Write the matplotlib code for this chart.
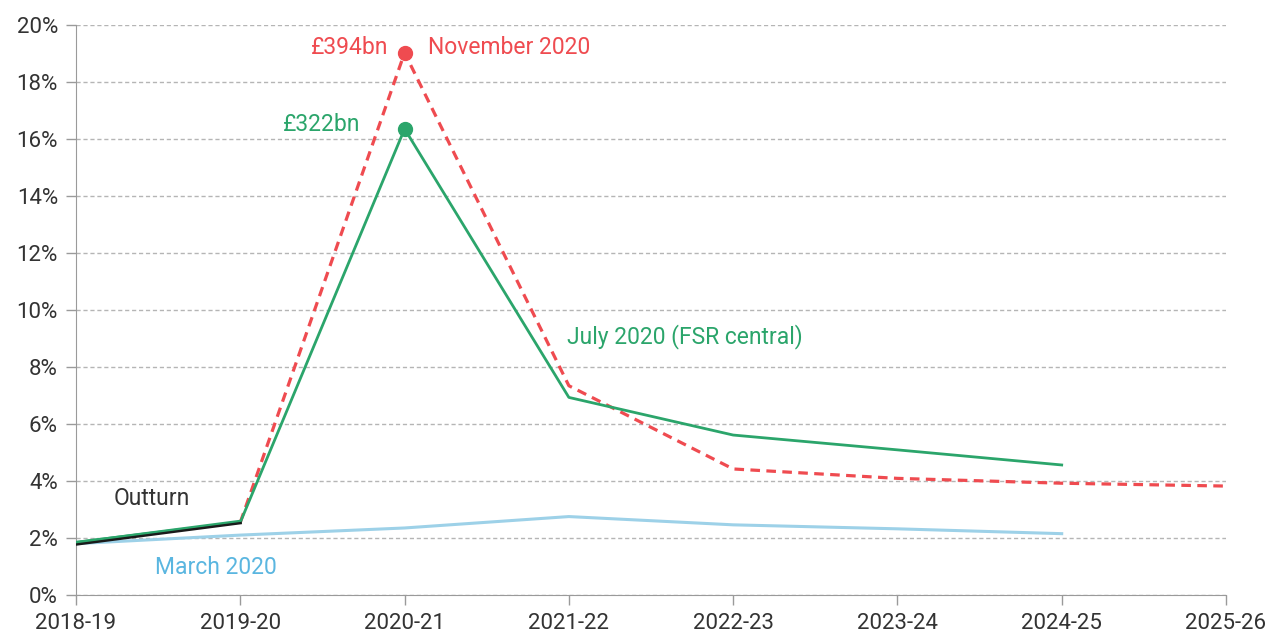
import matplotlib.pyplot as plt

plt.rcParams['font.family'] = ['Roboto', 'DejaVu Sans']

years = ['2018-19', '2019-20', '2020-21', '2021-22', '2022-23', '2023-24', '2024-25', '2025-26']

# Borrowing as % of GDP
outturn = [1.78, 2.53]
march_2020 = [1.80, 2.10, 2.35, 2.75, 2.46, 2.32, 2.15]
july_2020 = [1.85, 2.55, 16.35, 6.93, 5.61, 5.09, 4.56]
nov_2020 = [None, 2.55, 19.02, 7.34, 4.42, 4.09, 3.92, 3.82]

red = '#ef4b50'
green = '#2ba56b'
blue = '#9dd1e8'
blue_text = '#5ab6e0'
text_col = '#333333'
grid_col = '#b5b5b5'

fig = plt.figure(figsize=(12.8, 6.37), dpi=100)
ax = fig.add_axes([0.0594, 0.066, 0.8984, 0.895])

x = list(range(len(years)))

ax.plot(x[:len(march_2020)], march_2020, color=blue, lw=2.2, zorder=3)
nov_x = [i for i, v in enumerate(nov_2020) if v is not None]
nov_y = [v for v in nov_2020 if v is not None]
ax.plot(nov_x, nov_y, color=red, lw=2.3, ls=(0, (3, 2)), zorder=4)
ax.plot(x[:len(july_2020)], july_2020, color=green, lw=2, zorder=5)
ax.plot(x[:len(outturn)], outturn, color='#1a1a1a', lw=2.2, zorder=6)
ax.plot(x[:len(outturn)], [v + 0.07 for v in outturn], color=green, lw=1.6, zorder=7)

ax.plot([2], [nov_2020[2]], 'o', color=red, ms=10, zorder=8)
ax.plot([2], [july_2020[2]], 'o', color=green, ms=10, zorder=8)

ax.set_xlim(0, 7)
ax.set_ylim(0, 20)
ax.set_xticks(x)
ax.set_xticklabels(years)
ax.set_yticks(range(0, 21, 2))
ax.set_yticklabels([f'{v}%' for v in range(0, 21, 2)])

ax.grid(axis='y', color=grid_col, ls=(0, (3, 2)), lw=1)
ax.set_axisbelow(True)
for s in ['top', 'right']:
    ax.spines[s].set_visible(False)
ax.spines['left'].set_color('#9a9a9a')
ax.spines['bottom'].set_color('#9a9a9a')
ax.tick_params(axis='both', colors='#9a9a9a', labelcolor=text_col, labelsize=16,
               length=7, width=1)
ax.tick_params(axis='x', pad=6)
ax.tick_params(axis='y', pad=6)

fs = 16.5
ax.text(1.9, 19.2, '£394bn', color=red, fontsize=fs, ha='right', va='center')
ax.text(2.14, 19.2, 'November 2020', color=red, fontsize=fs, ha='left', va='center')
ax.text(1.73, 16.5, '£322bn', color=green, fontsize=fs, ha='right', va='center')
ax.text(2.99, 9.05, 'July 2020 (FSR central)', color=green, fontsize=fs, ha='left', va='center')
ax.text(0.23, 3.4, 'Outturn', color=text_col, fontsize=fs, ha='left', va='center')
ax.text(0.48, 0.95, 'March 2020', color=blue_text, fontsize=fs, ha='left', va='center')

fig.savefig('out.png', dpi=100)
